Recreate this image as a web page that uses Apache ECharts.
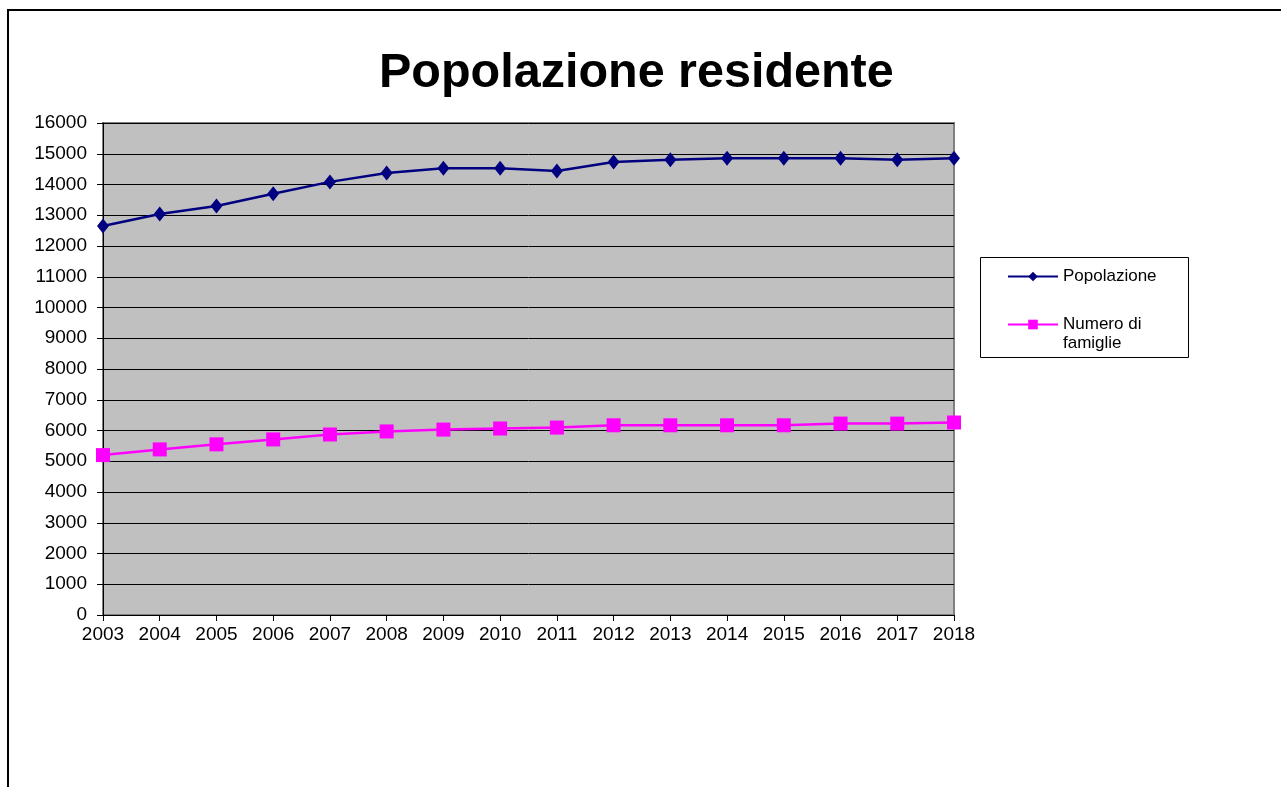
<!DOCTYPE html>
<html>
<head>
<meta charset="utf-8">
<script src="https://cdn.jsdelivr.net/npm/echarts@6/dist/echarts.min.js"></script>
<style>
  html, body { margin: 0; padding: 0; background: #fff; }
  #chart { width: 1281px; height: 787px; }
</style>
</head>
<body>
<div id="chart"></div>
<script>
const anni = ['2003', '2004', '2005', '2006', '2007', '2008', '2009', '2010',
  '2011', '2012', '2013', '2014', '2015', '2016', '2017', '2018']
const popolazione = [12650, 13040, 13300, 13700, 14085, 14375, 14525, 14525,
  14440, 14730, 14805, 14850, 14850, 14850, 14805, 14850]
const famiglie = [5200, 5385, 5550, 5710, 5870, 5970, 6030, 6065,
  6095, 6170, 6170, 6170, 6170, 6225, 6225, 6260]

const FONT = "'Liberation Sans', Arial, sans-serif"

const chart = echarts.init(document.getElementById('chart'))

const option = {
  animation: false,
  backgroundColor: '#fff',
  title: {
    text: 'Popolazione residente',
    left: 374,
    top: 44,
    textStyle: { fontFamily: FONT, fontSize: 48.5, fontWeight: 'bold', color: '#000' },
  },
  legend: [
    {
      data: ['Popolazione'],
      left: 1007,
      top: 268,
      padding: 0,
      itemWidth: 50,
      itemHeight: 12,
      itemGap: 0,
      textStyle: { fontFamily: FONT, fontSize: 17, color: '#000' },
    },
    {
      data: ['Numero di famiglie'],
      left: 1007,
      top: 296,
      padding: 0,
      itemWidth: 50,
      itemHeight: 12,
      // riga vuota iniziale: così l'icona resta allineata a "Numero di"
      formatter: () => '\u00a0\nNumero di\nfamiglie',
      textStyle: { fontFamily: FONT, fontSize: 17, lineHeight: 19, color: '#000' },
    },
  ],
  grid: {
    left: 103,
    right: 327,
    top: 123,
    bottom: 172,
    show: true,
    backgroundColor: '#c0c0c0',
    borderColor: '#808080',
    borderWidth: 2,
  },
  xAxis: {
    type: 'category',
    data: anni,
    boundaryGap: false,
    axisLine: { lineStyle: { color: '#000', width: 1 } },
    axisTick: { show: true, length: 6, lineStyle: { color: '#000' } },
    axisLabel: { fontFamily: FONT, fontSize: 19, color: '#000', margin: 10 },
    splitLine: { show: false },
  },
  yAxis: {
    type: 'value',
    min: 0,
    max: 16000,
    interval: 1000,
    axisLine: { show: true, lineStyle: { color: '#000', width: 1 } },
    axisTick: { show: true, length: 6, lineStyle: { color: '#000' } },
    axisLabel: {
      fontFamily: FONT, fontSize: 19, color: '#000', margin: 16,
      formatter: v => String(v),
    },
    splitLine: { show: true, lineStyle: { color: '#000', width: 1 } },
  },
  series: [
    {
      name: 'Popolazione',
      type: 'line',
      data: popolazione,
      symbol: 'diamond',
      symbolSize: [12, 15],
      lineStyle: { color: '#000080', width: 2.5 },
      itemStyle: { color: '#000080' },
    },
    {
      name: 'Numero di famiglie',
      type: 'line',
      data: famiglie,
      symbol: 'rect',
      symbolSize: 14,
      lineStyle: { color: '#ff00ff', width: 2.5 },
      itemStyle: { color: '#ff00ff' },
    },
  ],
  graphic: [
    {
      type: 'rect',
      shape: { x: 8, y: 10, width: 1400, height: 900 },
      style: { fill: 'none', stroke: '#000', lineWidth: 2 },
      silent: true,
    },
    {
      type: 'rect',
      shape: { x: 980.5, y: 257.5, width: 208, height: 100 },
      style: { fill: 'none', stroke: '#000', lineWidth: 1 },
      silent: true,
    },
  ],
}

chart.setOption(option)
</script>
</body>
</html>
